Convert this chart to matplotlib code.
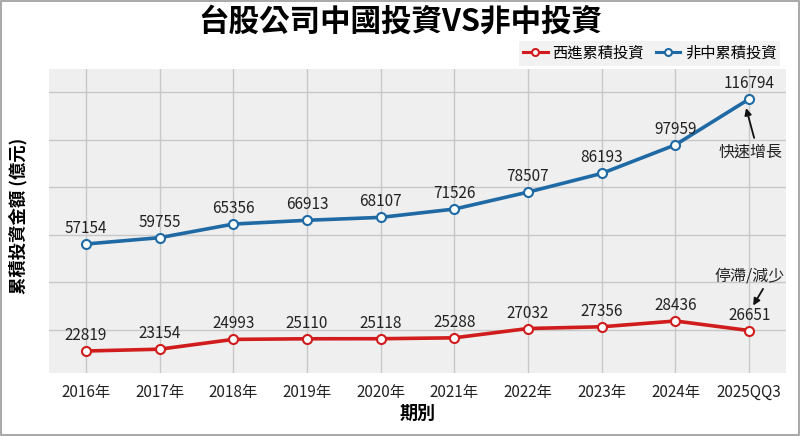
import matplotlib; matplotlib.use('Agg')
import matplotlib.pyplot as plt
import numpy as np
from matplotlib.patches import Rectangle
from matplotlib.transforms import offset_copy

plt.rcParams['font.family'] = ['Noto Sans CJK TC', 'DejaVu Sans']

periods = ['2016年', '2017年', '2018年', '2019年', '2020年', '2021年', '2022年', '2023年', '2024年', '2025QQ3']
west = [22819, 23154, 24993, 25110, 25118, 25288, 27032, 27356, 28436, 26651]
nonchina = [57154, 59755, 65356, 66913, 68107, 71526, 78507, 86193, 97959, 116794]

RED = '#d01c1c'; BLUE = '#1f6aa5'
x = np.arange(len(periods))

fig = plt.figure(figsize=(8, 4.36), dpi=100)
ax = fig.add_axes([0.06125, 0.1445, 0.92125, 0.6972])
ax2 = ax.twinx()
ax.set_facecolor('#efefef')
ax.set_xlim(-0.5, 9.5)
# each series on its own (hidden) scale, as in the infographic
ax.set_ylim(4089, 129141)
ax2.set_ylim(18699, 75628)
ax.set_yticks(np.linspace(21778, 119679, 6))
ax.set_xticks(x); ax.set_xticklabels(periods, fontsize=11, color='#222222')
ax.tick_params(axis='both', length=0, pad=8)
ax.tick_params(axis='y', labelleft=False)
ax2.set_yticks([])
ax.grid(True, color='#c8c8c8', lw=1.0)
ax.set_axisbelow(True)
for a in (ax, ax2):
    for s in a.spines.values():
        s.set_visible(False)

lb, = ax.plot(x, nonchina, color=BLUE, lw=2.6, marker='o', ms=6.5, mfc='white', mec=BLUE, mew=1.5,
              label='非中累積投資', zorder=3)
lr, = ax2.plot(x, west, color=RED, lw=2.6, marker='o', ms=6.5, mfc='white', mec=RED, mew=1.5,
               label='西進累積投資', zorder=3)
for xi, v in zip(x, nonchina):
    ax.annotate(str(v), (xi, v), xytext=(0, 5), textcoords='offset points', ha='center', va='bottom',
                fontsize=11, color='#222222')
for xi, v in zip(x, west):
    ax2.annotate(str(v), (xi, v), xytext=(0, 5), textcoords='offset points', ha='center', va='bottom',
                 fontsize=11, color='#222222')

arrow = dict(arrowstyle='-|>', color='#111111', lw=1.3, mutation_scale=10, shrinkA=0, shrinkB=0)
# 快速增長
ax.annotate('快速增長', (x[-1], nonchina[-1]), xytext=(1, -38), textcoords='offset points',
            ha='center', va='center', fontsize=11.5, color='#222222')
t1 = offset_copy(ax.transData, fig=fig, x=-2.2, y=-6.5, units='points')
t2 = offset_copy(ax.transData, fig=fig, x=3.6, y=-28, units='points')
ax.annotate('', xy=(x[-1], nonchina[-1]), xycoords=t1, xytext=(x[-1], nonchina[-1]), textcoords=t2,
            arrowprops=arrow)
# 停滯/減少
ax2.annotate('停滯/減少', (x[-1], west[-1]), xytext=(0.7, 39.6), textcoords='offset points',
             ha='center', va='center', fontsize=11.5, color='#222222')
t3 = offset_copy(ax2.transData, fig=fig, x=2.9, y=18, units='points')
t4 = offset_copy(ax2.transData, fig=fig, x=10, y=30, units='points')
ax2.annotate('', xy=(x[-1], west[-1]), xycoords=t3, xytext=(x[-1], west[-1]), textcoords=t4,
             arrowprops=arrow)

ax.set_xlabel('期別', fontsize=13, fontweight='bold', labelpad=2)
fig.text(0.023, 0.505, '累積投資金額 (億元)', rotation=90, ha='center', va='center',
         fontsize=12.5, fontweight='bold')
fig.text(0.5, 0.95, '台股公司中國投資VS非中投資', ha='center', va='center', fontsize=22, fontweight='bold')

leg = fig.legend(handles=[lr, lb], loc='center right', bbox_to_anchor=(0.985, 0.878), ncol=2,
                 fontsize=11, frameon=True, handlelength=1.6, handletextpad=0.3, columnspacing=0.8,
                 borderpad=0.25, fancybox=False)
leg.get_frame().set_facecolor('#efefef'); leg.get_frame().set_edgecolor('none')
for h in leg.legend_handles:
    h.set_markersize(5); h.set_linewidth(2.2)

fig.add_artist(Rectangle((0.001, 0.002), 0.998, 0.996, transform=fig.transFigure, fill=False,
                         edgecolor='#9a9a9a', lw=1.2))
fig.savefig('out.png', dpi=100)
